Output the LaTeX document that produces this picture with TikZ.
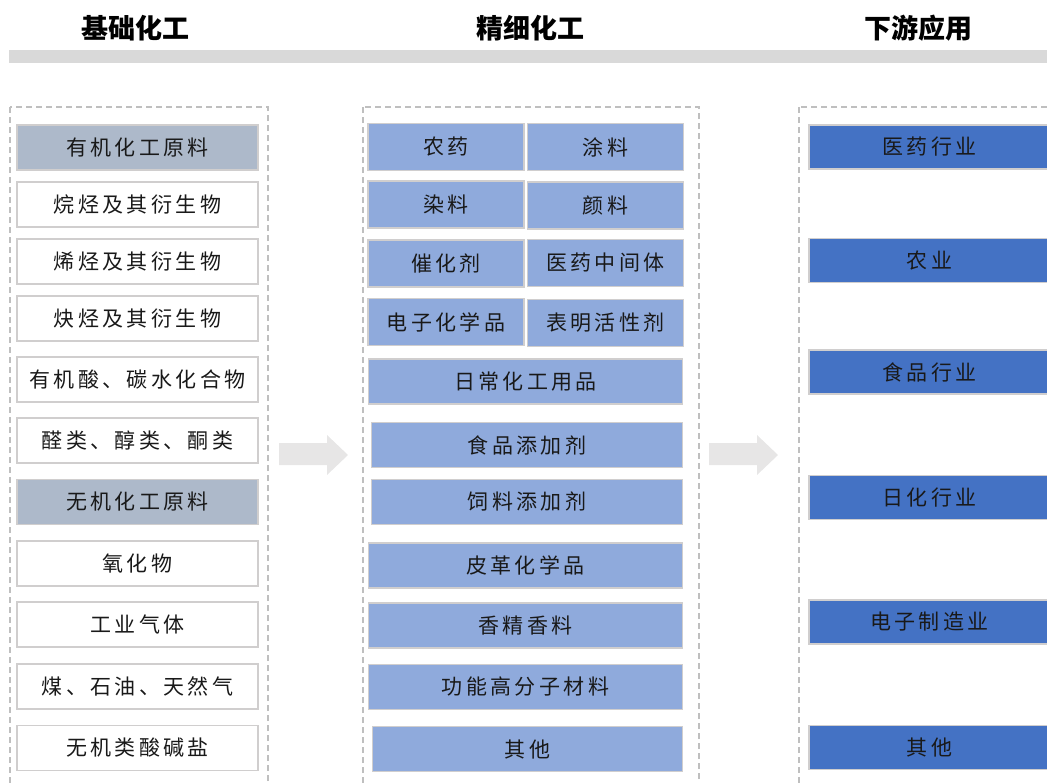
\documentclass[tikz,border=0pt]{standalone}
\usepackage{fontspec}
\setmainfont{Noto Sans CJK SC}
\newfontfamily\boxfont[LetterSpace=16]{Noto Sans CJK SC}
\definecolor{barcol}{HTML}{D9D9D9}
\definecolor{boxline}{HTML}{D0CECE}
\definecolor{headcol}{HTML}{ADB9CA}
\definecolor{finecol}{HTML}{8FAADC}
\definecolor{appcol}{HTML}{4472C4}
\definecolor{arrcol}{HTML}{E7E6E6}
\definecolor{dashcol}{HTML}{BFBFBF}

\begin{document}
\begin{tikzpicture}[x=1pt,y=-1pt,
  title/.style={font=\bfseries\fontsize{27}{30}\selectfont},
  box/.style={draw=boxline, line width=1.6pt, inner sep=0pt, minimum height=45pt,
    font=\boxfont\fontsize{21}{25}\selectfont, text=black!90},
  basebox/.style={box, fill=white, minimum width=241pt},
  headbox/.style={basebox, fill=headcol},
  halfbox/.style={box, fill=finecol, minimum width=156pt, minimum height=47pt},
  widebox/.style={box, fill=finecol, minimum width=314pt},
  appbox/.style={box, fill=appcol, minimum width=241pt, minimum height=44pt},
  frame/.style={draw=dashcol, line width=1.3pt, dash pattern=on 6pt off 4pt}]
  \useasboundingbox (0,0) rectangle (1047,782);
  \clip (0,0) rectangle (1047,782);

  % titles and bar
  \node[title] (basic) at (135,28) {基础化工};
  \node[title] (fine) at (530,28) {精细化工};
  \node[title] (down) at (918,28) {下游应用};
  \fill[barcol] (9,50) rectangle (1047,63);

  % dashed frames
  \draw[frame] (10,107) rectangle (268,800);
  \draw[frame] (363,107) rectangle (699,800);
  \draw[frame] (799,107) rectangle (1070,800);

  % basic column
  \node[headbox] (organic) at (137.5,147.5) {有机化工原料};
  \node[basebox] (alkane) at (137.5,204.5) {烷烃及其衍生物};
  \node[basebox] (alkene) at (137.5,261.5) {烯烃及其衍生物};
  \node[basebox] (alkyne) at (137.5,318.5) {炔烃及其衍生物};
  \node[basebox] (acid) at (137.5,379.5) {有机酸、碳水化合物};
  \node[basebox] (aldehyde) at (137.5,440.5) {醛类、醇类、酮类};
  \node[headbox] (inorganic) at (137.5,502) {无机化工原料};
  \node[basebox] (oxide) at (137.5,563.5) {氧化物};
  \node[basebox] (gas) at (137.5,624.5) {工业气体};
  \node[basebox] (coal) at (137.5,686.5) {煤、石油、天然气};
  \node[basebox] (salt) at (137.5,748) {无机类酸碱盐};

  % fine column
  \node[halfbox] (pesticide) at (446,147) {农药};
  \node[halfbox] (coating) at (605.5,147) {涂料};
  \node[halfbox] (dye) at (446,204.5) {染料};
  \node[halfbox] (pigment) at (605.5,205.5) {颜料};
  \node[halfbox] (catalyst) at (446,263.5) {催化剂};
  \node[halfbox] (pharmint) at (605.5,263) {医药中间体};
  \node[halfbox] (electchem) at (446,322) {电子化学品};
  \node[halfbox] (surfact) at (605.5,323) {表明活性剂};
  \node[widebox] (daily) at (525.5,381.5) {日常化工用品};
  \node[widebox, minimum width=311pt] (foodadd) at (527,445) {食品添加剂};
  \node[widebox, minimum width=311pt] (feedadd) at (527,502) {饲料添加剂};
  \node[widebox] (leather) at (525.5,565.5) {皮革化学品};
  \node[widebox] (flavor) at (525.5,625.5) {香精香料};
  \node[widebox] (polymer) at (525.5,687) {功能高分子材料};
  \node[widebox, minimum width=310pt] (othermid) at (527.5,749) {其他};

  % application column
  \node[appbox] (pharma) at (929.5,147) {医药行业};
  \node[appbox] (agri) at (929.5,260.5) {农业};
  \node[appbox] (food) at (929.5,372) {食品行业};
  \node[appbox] (dailyuse) at (929.5,497.5) {日化行业};
  \node[appbox] (electronics) at (929.5,622) {电子制造业};
  \node[appbox] (otherapp) at (929.5,747.5) {其他};

  % block arrows
  \fill[arrcol] (279,443) -- (327,443) -- (327,435) -- (348,455) -- (327,475)
    -- (327,465) -- (279,465) -- cycle;
  \fill[arrcol] (709,443) -- (757,443) -- (757,435) -- (778,455) -- (757,475)
    -- (757,465) -- (709,465) -- cycle;
\end{tikzpicture}
\end{document}
